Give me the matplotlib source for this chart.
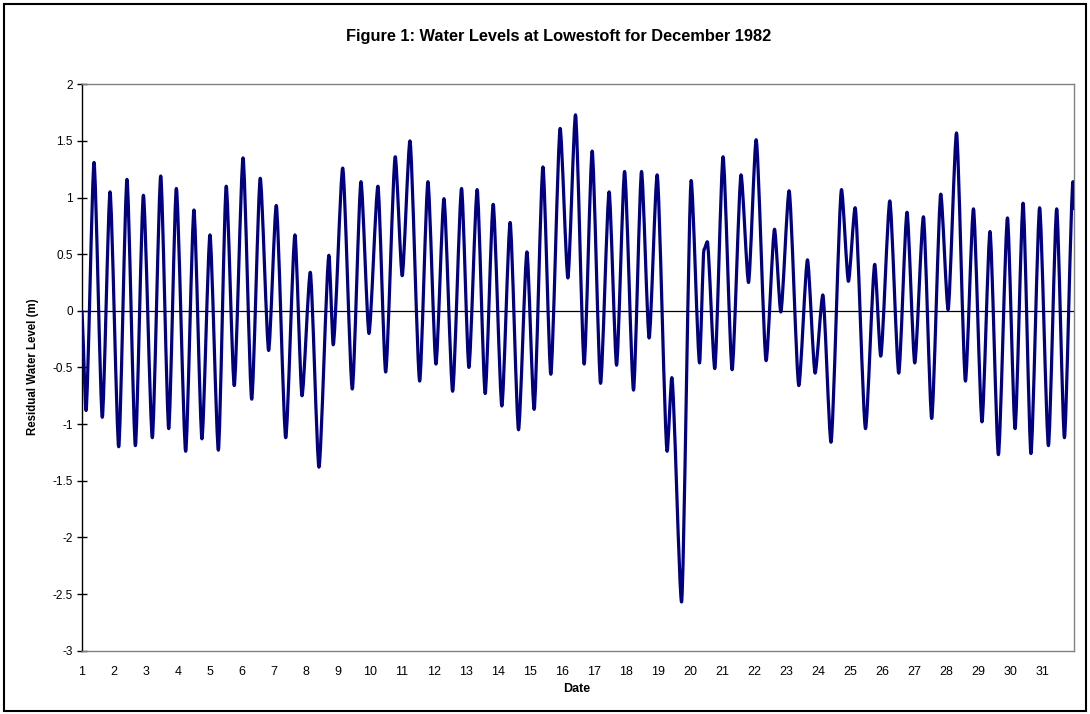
import numpy as np
import matplotlib
matplotlib.use('Agg')
import matplotlib.pyplot as plt
from matplotlib.path import Path
from matplotlib.patches import PathPatch, Rectangle
from matplotlib.ticker import FuncFormatter

# =====[ Data: turning points of the residual, hours from 1 Dec 00:00 ]=====
hours = [0.0, 3.2, 9.2, 15.4, 21.2, 27.7, 33.9, 40.2, 46.2, 52.9,
         59.2, 65.2, 70.9, 77.9, 84.1, 90.1, 96.1, 102.4, 108.3, 114.3,
         120.9, 127.4, 133.8, 140.1, 145.8, 152.9, 159.8, 165.1, 171.3, 177.8,
         185.3, 188.5, 195.6, 202.8, 209.3, 215.3, 222.0, 227.8, 235.0, 240.2,
         246.0, 253.3, 259.5, 265.5, 271.5, 278.0, 284.7, 290.2, 296.4, 302.4,
         308.4, 314.9, 321.1, 327.4, 333.7, 339.1, 345.7, 351.6, 358.6, 364.4,
         370.1, 376.6, 382.6, 388.9, 395.3, 400.9, 406.9, 413.6, 419.6, 425.3,
         431.3, 438.8, 442.3, 449.6, 456.8, 463.1, 466.4, 468.9, 474.5, 480.7,
         487.5, 494.2, 499.8, 505.5, 513.0, 519.3, 524.0, 530.2, 537.5, 544.0,
         549.7, 555.5, 561.6, 569.5, 574.7, 579.7, 587.5, 594.4, 598.9, 605.7,
         612.4, 618.6, 624.4, 630.9, 637.1, 643.9, 649.4, 655.7, 662.4, 668.4,
         674.8, 680.8, 687.1, 693.9, 699.6, 705.6, 711.5, 718.0, 724.6, 730.8,
         736.6, 743.0, 744.0]
levels = [0.00, -0.88, 1.31, -0.94, 1.05, -1.20, 1.16, -1.19, 1.02, -1.12,
          1.19, -1.04, 1.08, -1.24, 0.89, -1.13, 0.67, -1.23, 1.10, -0.66,
          1.35, -0.78, 1.17, -0.35, 0.93, -1.12, 0.67, -0.75, 0.34, -1.38,
          0.49, -0.30, 1.26, -0.69, 1.14, -0.20, 1.10, -0.54, 1.36, 0.31,
          1.50, -0.62, 1.14, -0.47, 0.99, -0.71, 1.08, -0.50, 1.07, -0.73,
          0.94, -0.84, 0.78, -1.05, 0.52, -0.87, 1.27, -0.56, 1.61, 0.29,
          1.73, -0.47, 1.41, -0.64, 1.05, -0.48, 1.23, -0.70, 1.23, -0.24,
          1.20, -1.24, -0.59, -2.57, 1.15, -0.46, 0.54, 0.61, -0.51, 1.36,
          -0.52, 1.20, 0.25, 1.51, -0.44, 0.72, -0.01, 1.06, -0.66, 0.45,
          -0.55, 0.14, -1.16, 1.07, 0.26, 0.91, -1.04, 0.41, -0.40, 0.97,
          -0.55, 0.87, -0.46, 0.83, -0.95, 1.03, 0.01, 1.57, -0.62, 0.90,
          -0.98, 0.70, -1.27, 0.82, -1.04, 0.95, -1.26, 0.91, -1.19, 0.90,
          -1.12, 1.14, 0.90]
day_labels = [str(d) for d in range(1, 32)]
y_ticks = [-3, -2.5, -2, -1.5, -1, -0.5, 0, 0.5, 1, 1.5, 2]

plt.rcParams['font.family'] = ['Liberation Sans', 'DejaVu Sans']

fig = plt.figure(figsize=(10.9, 7.14), dpi=100)
ax = fig.add_axes([0.075, 0.0887, 0.9106, 0.7933])

# =====[ Smooth tide curve through the turning points ]=====
days = 1 + np.array(hours) / 24.0
vals = np.array(levels)
k = 0.22  # small -> straighter flanks, sharper crests
verts = [(days[0], vals[0])]
codes = [Path.MOVETO]
for i in range(1, len(days)):
    dt = days[i] - days[i - 1]
    verts += [(days[i - 1] + k * dt, vals[i - 1]),
              (days[i] - k * dt, vals[i]),
              (days[i], vals[i])]
    codes += [Path.CURVE4] * 3
ax.add_patch(PathPatch(Path(verts, codes), facecolor='none',
                       edgecolor='#000080', lw=2.3, zorder=3,
                       capstyle='round', joinstyle='round'))

ax.axhline(0, color='black', lw=0.9, zorder=2)

ax.set_xlim(1, 32)
ax.set_ylim(-3, 2)
ax.set_xticks(range(1, 32))
ax.set_xticklabels(day_labels)
ax.set_yticks(y_ticks)
ax.yaxis.set_major_formatter(FuncFormatter(lambda v, p: '{:g}'.format(v)))
ax.tick_params(axis='x', length=0, pad=11, labelsize=9)
ax.tick_params(axis='y', direction='inout', length=7, width=1,
               labelsize=8.5, pad=3)

for side in ('top', 'right', 'bottom'):
    ax.spines[side].set_color('#808080')
    ax.spines[side].set_linewidth(1)
ax.spines['left'].set_color('black')
ax.spines['left'].set_linewidth(1)

fig.text(559 / 1090, 1 - 36 / 714, 'Figure 1: Water Levels at Lowestoft for December 1982',
         ha='center', va='center', fontsize=11.8, fontweight='bold')
fig.text(577 / 1090, 1 - 689 / 714, 'Date', ha='center', va='center',
         fontsize=9, fontweight='bold')
fig.text(33 / 1090, 1 - 367 / 714, 'Residual Water Level (m)', ha='center',
         va='center', rotation=90, fontsize=8.3, fontweight='bold')

# chart border
fig.patches.append(Rectangle((4 / 1090, 3 / 714), 1082 / 1090, 707 / 714,
                             transform=fig.transFigure, fill=False,
                             edgecolor='black', lw=1.5))

fig.savefig('out.png', dpi=100)
